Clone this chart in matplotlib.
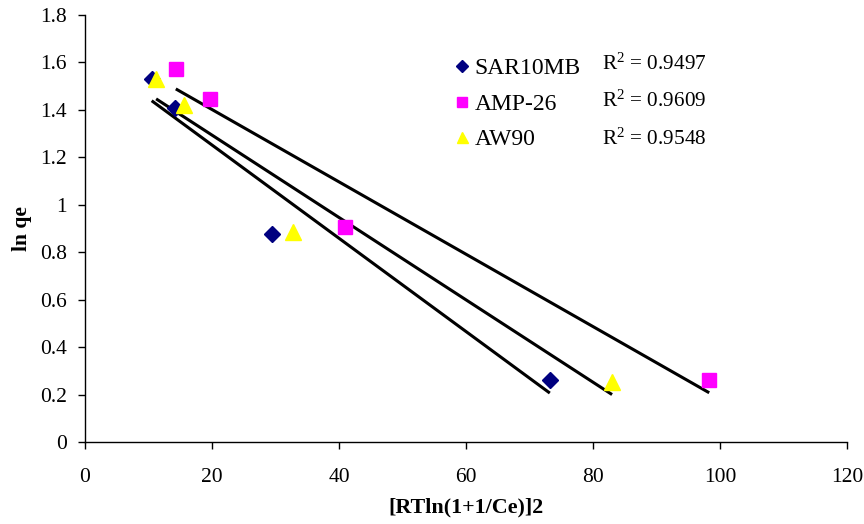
import numpy as np
import matplotlib
matplotlib.use("Agg")
import matplotlib.pyplot as plt

plt.rcParams["font.family"] = ["Liberation Serif", "DejaVu Serif"]
plt.rcParams["mathtext.fontset"] = "custom"
plt.rcParams["mathtext.rm"] = "Liberation Serif"
plt.rcParams["mathtext.it"] = "Liberation Serif:italic"

# Dubinin-Radushkevich plot data: [RT ln(1+1/Ce)]^2 vs ln qe
sar_x = [10.5, 14.2, 29.4, 73.2]
sar_y = [1.53, 1.41, 0.877, 0.261]
amp_x = [14.3, 19.7, 40.9, 98.3]
amp_y = [1.572, 1.446, 0.906, 0.261]
aw_x = [11.2, 15.6, 32.8, 83.0]
aw_y = [1.53, 1.42, 0.885, 0.253]

series_names = ["SAR10MB", "AMP-26", "AW90"]
r2_labels = ["0.9497", "0.9609", "0.9548"]

x_ticks = [0, 20, 40, 60, 80, 100, 120]
y_ticks = [0, 0.2, 0.4, 0.6, 0.8, 1, 1.2, 1.4, 1.6, 1.8]
y_tick_labels = ["0", "0.2", "0.4", "0.6", "0.8", "1", "1.2", "1.4", "1.6", "1.8"]

fig = plt.figure(figsize=(8.64, 5.24), dpi=100)
ax = fig.add_axes([85 / 864, 1 - 442 / 524, 762 / 864, 427 / 524])

styles = [
    dict(marker="D", color="#000080", ms=8),
    dict(marker="s", color="#FF00FF", ms=9.5),
    dict(marker="^", color="#FFFF00", ms=11),
]
data = [(sar_x, sar_y), (amp_x, amp_y), (aw_x, aw_y)]

# linear trendlines spanning each series' x range
for (xs, ys) in data:
    xs_a = np.array(xs)
    k, b = np.polyfit(xs_a, np.array(ys), 1)
    xl = np.array([xs_a.min(), xs_a.max()])
    ax.plot(xl, k * xl + b, color="black", lw=2.2, zorder=2, solid_capstyle="butt")

handles = []
for (xs, ys), st, name in zip(data, styles, series_names):
    h, = ax.plot(xs, ys, linestyle="none", marker=st["marker"], ms=st["ms"],
                 color=st["color"], markeredgecolor=st["color"], label=name, zorder=3)
    handles.append(h)

leg = ax.legend(handles=handles, loc="upper left", bbox_to_anchor=(0.465, 0.939),
                frameon=False, fontsize=17, handlelength=0.5, handletextpad=0.3,
                labelspacing=0.6, markerscale=0.72, borderpad=0.2)

r2_y = [0.884, 0.797, 0.709]
for lab, yy in zip(r2_labels, r2_y):
    ax.text(0.678, yy, "R$^2$ = " + lab, transform=ax.transAxes, fontsize=15.3,
            va="center", ha="left")

ax.set_xlim(0, 120)
ax.set_ylim(0, 1.8)
ax.set_xticks(x_ticks)
ax.set_xticklabels([str(t) for t in x_ticks])
ax.set_yticks(y_ticks)
ax.set_yticklabels(y_tick_labels)
ax.tick_params(direction="out", length=5, width=1, labelsize=15.5)
ax.tick_params(axis="x", pad=14)
ax.tick_params(axis="y", pad=8)
ax.spines["top"].set_visible(False)
ax.spines["right"].set_visible(False)
for s in ("left", "bottom"):
    ax.spines[s].set_linewidth(1)

ax.set_xlabel("[RTln(1+1/Ce)]2", fontsize=15.8, fontweight="bold", labelpad=7)
ax.set_ylabel("ln qe", fontsize=15.5, fontweight="bold", labelpad=6)

fig.savefig("out.png", dpi=100)
